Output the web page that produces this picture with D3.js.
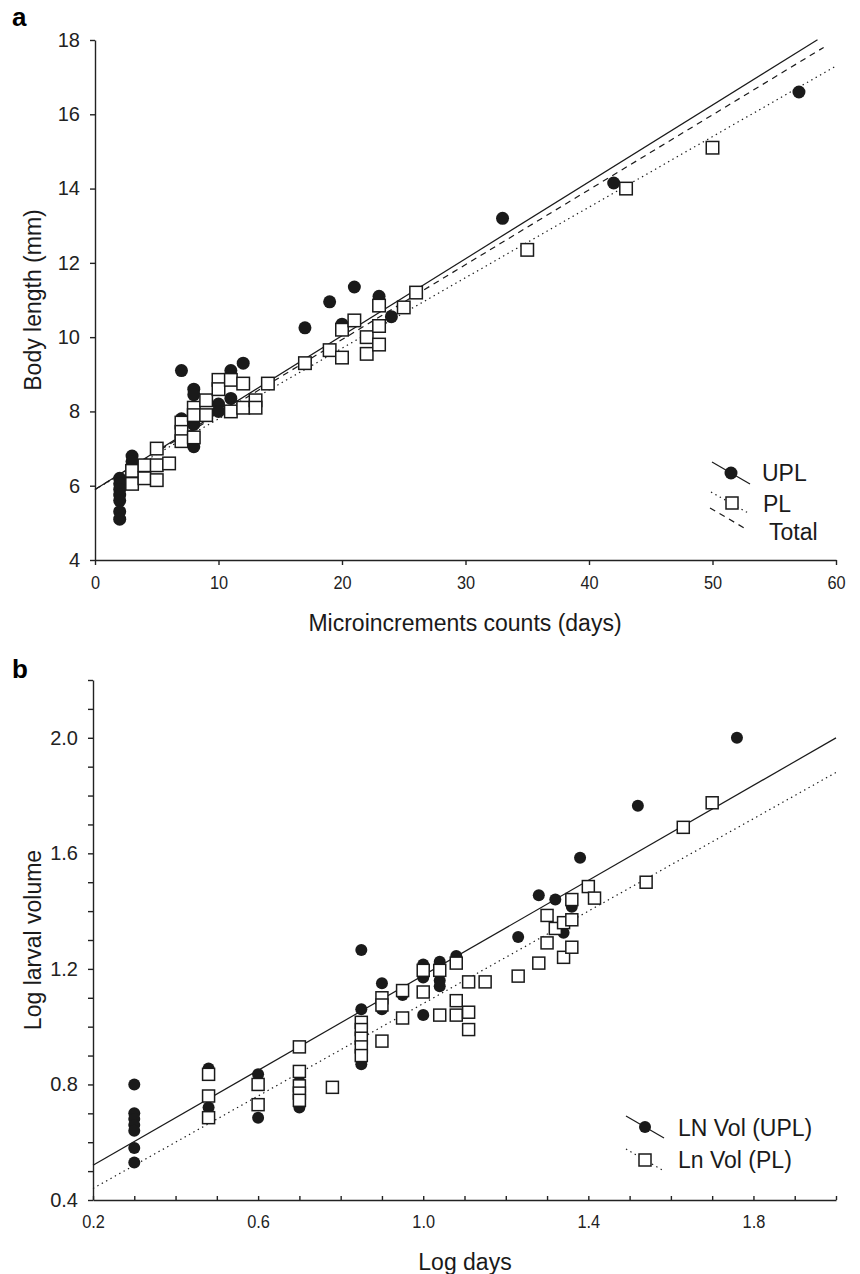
<!DOCTYPE html>
<html>
<head>
<meta charset="UTF-8">
<title>Body length and larval volume</title>
<script src="https://d3js.org/d3.v7.min.js"></script>
<style>
  body { margin: 0; background: #fff; }
  svg { display: block; font-family: "Liberation Sans", Arial, sans-serif; }
  .axis path, .axis line { stroke: #222; stroke-width: 1.4; }
  .axis text { fill: #222; }
</style>
</head>
<body>
<svg id="chart" width="860" height="1274"></svg>
<script>
// panel a: microincrement counts (days) vs body length (mm)
const uplA = [
  [2, 6.2], [2, 6.05], [2, 5.9], [2, 5.75], [2, 5.6], [2, 5.3], [2, 5.1],
  [3, 6.8], [3, 6.65],
  [7, 9.1], [7, 7.8],
  [8, 8.6], [8, 8.45], [8, 7.65], [8, 7.05],
  [10, 8.2], [10, 8.0],
  [11, 9.1], [11, 8.35],
  [12, 9.3],
  [17, 10.25], [19, 10.95], [20, 10.35], [21, 11.35], [23, 11.1], [24, 10.55],
  [33, 13.2], [42, 14.15], [57, 16.6]
];
const plA = [
  [3, 6.4], [3, 6.05],
  [4, 6.55], [4, 6.2],
  [5, 7.0], [5, 6.55], [5, 6.15],
  [6, 6.6],
  [7, 7.7], [7, 7.45], [7, 7.2],
  [8, 8.1], [8, 7.9], [8, 7.3],
  [9, 8.3], [9, 7.9],
  [10, 8.85], [10, 8.6],
  [11, 8.85], [11, 8.0],
  [12, 8.75], [12, 8.1],
  [13, 8.3], [13, 8.1],
  [14, 8.75],
  [17, 9.3], [19, 9.65], [20, 10.2], [20, 9.45], [21, 10.45], [22, 10.0], [22, 9.55],
  [23, 10.85], [23, 10.3], [23, 9.8], [25, 10.8], [26, 11.2],
  [35, 12.35], [43, 14.0], [50, 15.1]
];
// fitted lines: [intercept, slope, last x]
const fitUplA = [5.9, 0.207, 58.5];
const fitPlA = [5.9, 0.19, 60];
const fitTotalA = [5.9, 0.2017, 59];
const xTicksA = [0, 10, 20, 30, 40, 50, 60];
const yTicksA = [4, 6, 8, 10, 12, 14, 16, 18];

// panel b: log days vs log larval volume
const uplB = [
  [0.30, 0.80], [0.30, 0.70], [0.30, 0.68], [0.30, 0.66], [0.30, 0.64], [0.30, 0.58], [0.30, 0.53],
  [0.48, 0.855], [0.48, 0.72],
  [0.60, 0.835], [0.60, 0.685],
  [0.70, 0.81], [0.70, 0.72],
  [0.85, 1.265], [0.85, 1.06], [0.85, 0.87],
  [0.90, 1.15], [0.90, 1.06],
  [0.95, 1.11],
  [1.00, 1.215], [1.00, 1.17], [1.00, 1.04],
  [1.04, 1.225], [1.04, 1.16], [1.04, 1.14],
  [1.08, 1.245],
  [1.23, 1.31], [1.28, 1.455], [1.32, 1.44], [1.34, 1.325], [1.36, 1.415], [1.38, 1.585],
  [1.52, 1.765], [1.76, 2.0]
];
const plB = [
  [0.48, 0.835], [0.48, 0.76], [0.48, 0.685],
  [0.60, 0.80], [0.60, 0.73],
  [0.70, 0.93], [0.70, 0.845], [0.70, 0.795], [0.70, 0.77], [0.70, 0.745],
  [0.78, 0.79],
  [0.85, 1.015], [0.85, 0.99], [0.85, 0.96], [0.85, 0.93], [0.85, 0.90],
  [0.90, 1.10], [0.90, 1.075], [0.90, 0.95],
  [0.95, 1.125], [0.95, 1.03],
  [1.00, 1.195], [1.00, 1.12],
  [1.04, 1.195], [1.04, 1.04],
  [1.08, 1.22], [1.08, 1.09], [1.08, 1.04],
  [1.11, 1.155], [1.11, 1.05], [1.11, 0.99],
  [1.15, 1.155],
  [1.23, 1.175], [1.28, 1.22], [1.30, 1.385], [1.30, 1.29], [1.32, 1.34], [1.34, 1.36], [1.34, 1.24],
  [1.36, 1.44], [1.36, 1.37], [1.36, 1.275], [1.40, 1.485], [1.415, 1.445],
  [1.54, 1.50], [1.63, 1.69], [1.70, 1.775]
];
// fitted lines: [value at x0, slope, x0, x1]
const fitUplB = [0.52, 0.822, 0.2, 2.0];
const fitPlB = [0.44, 0.8, 0.2, 2.0];
const xTicksB = d3.range(2, 21).map(d => d / 10);
const xLabelsB = [0.2, 0.6, 1.0, 1.4, 1.8];
const yTicksB = d3.range(4, 23).map(d => d / 10);
const yLabelsB = [0.4, 0.8, 1.2, 1.6, 2.0];

const svg = d3.select("#chart");
const ink = "#1a1a1a";

function circles(g, data, x, y, r) {
  g.append("g").selectAll("circle").data(data).join("circle")
    .attr("cx", d => x(d[0])).attr("cy", d => y(d[1])).attr("r", r)
    .attr("fill", ink);
}
function squares(g, data, x, y, s) {
  g.append("g").selectAll("rect").data(data).join("rect")
    .attr("x", d => x(d[0]) - s / 2).attr("y", d => y(d[1]) - s / 2)
    .attr("width", s).attr("height", s)
    .attr("fill", "#fff").attr("stroke", ink).attr("stroke-width", 1.5);
}
function fitLine(g, x, y, x0, x1, a, b, dash) {
  const pts = [x0, x1].map(t => [t, a + b * (t - x0)]);
  g.append("path")
    .attr("d", d3.line().x(d => x(d[0])).y(d => y(d[1]))(pts))
    .attr("fill", "none").attr("stroke", ink).attr("stroke-width", 1.2)
    .attr("stroke-dasharray", dash);
}

// ---------- panel a ----------
const xa = d3.scaleLinear().domain([0, 60]).range([95, 836]);
const ya = d3.scaleLinear().domain([4, 18]).range([560, 40]);
const ga = svg.append("g");

ga.append("g").attr("class", "axis").attr("transform", "translate(0,560)")
  .call(d3.axisBottom(xa).tickValues(xTicksA).tickSize(5).tickPadding(11).tickSizeOuter(0))
  .selectAll("text").attr("font-size", 19).attr("transform", "scale(0.86,1)");
ga.append("g").attr("class", "axis").attr("transform", "translate(95,0)")
  .call(d3.axisLeft(ya).tickValues(yTicksA).tickSize(5).tickPadding(10).tickSizeOuter(0))
  .selectAll("text").attr("font-size", 20);

fitLine(ga, xa, ya, 0, fitUplA[2], fitUplA[0], fitUplA[1], null);
fitLine(ga, xa, ya, 0, fitTotalA[2], fitTotalA[0], fitTotalA[1], "6,5");
fitLine(ga, xa, ya, 0, fitPlA[2], fitPlA[0], fitPlA[1], "1.4,3.6");
circles(ga, uplA, xa, ya, 6.5);
squares(ga, plA, xa, ya, 12.5);

ga.append("text").attr("x", 12).attr("y", 26).attr("font-size", 26).attr("font-weight", "bold").text("a");
ga.append("text").attr("transform", "translate(41,300) rotate(-90)").attr("text-anchor", "middle")
  .attr("font-size", 23).attr("fill", ink).text("Body length (mm)");
ga.append("text").attr("x", 465).attr("y", 631).attr("text-anchor", "middle")
  .attr("font-size", 23).attr("fill", ink).text("Microincrements counts (days)");

// legend a
const la = ga.append("g");
la.append("line").attr("x1", 712).attr("y1", 462).attr("x2", 750).attr("y2", 484).attr("stroke", ink).attr("stroke-width", 1.2);
la.append("circle").attr("cx", 731).attr("cy", 473).attr("r", 6.5).attr("fill", ink);
la.append("line").attr("x1", 711).attr("y1", 492).attr("x2", 750).attr("y2", 514).attr("stroke", ink).attr("stroke-width", 1.2).attr("stroke-dasharray", "1.4,3.6");
la.append("rect").attr("x", 726).attr("y", 497).attr("width", 12).attr("height", 12).attr("fill", "#fff").attr("stroke", ink).attr("stroke-width", 1.5);
la.append("line").attr("x1", 710).attr("y1", 508).attr("x2", 746).attr("y2", 529).attr("stroke", ink).attr("stroke-width", 1.2).attr("stroke-dasharray", "6,5");
la.append("text").attr("x", 762).attr("y", 481).attr("font-size", 23).attr("fill", ink).text("UPL");
la.append("text").attr("x", 763).attr("y", 512).attr("font-size", 23).attr("fill", ink).text("PL");
la.append("text").attr("x", 769).attr("y", 540).attr("font-size", 23).attr("fill", ink).text("Total");

// ---------- panel b ----------
const xb = d3.scaleLinear().domain([0.2, 2.0]).range([93, 836]);
const yb = d3.scaleLinear().domain([0.4, 2.2]).range([1200, 680]);
const gb = svg.append("g");

gb.append("g").attr("class", "axis").attr("transform", "translate(0,1200)")
  .call(d3.axisBottom(xb).tickValues(xTicksB).tickSize(-4).tickPadding(15).tickSizeOuter(0)
    .tickFormat(d => xLabelsB.some(v => Math.abs(v - d) < 1e-9) ? d3.format(".1f")(d) : ""))
  .selectAll("text").attr("font-size", 19).attr("transform", "scale(0.86,1)");
gb.append("g").attr("class", "axis").attr("transform", "translate(93,0)")
  .call(d3.axisLeft(yb).tickValues(yTicksB).tickSize(5).tickPadding(10).tickSizeOuter(0)
    .tickFormat(d => yLabelsB.some(v => Math.abs(v - d) < 1e-9) ? d3.format(".1f")(d) : ""))
  .selectAll("text").attr("font-size", 20);

fitLine(gb, xb, yb, fitUplB[2], fitUplB[3], fitUplB[0], fitUplB[1], null);
fitLine(gb, xb, yb, fitPlB[2], fitPlB[3], fitPlB[0], fitPlB[1], "1.4,3.6");
circles(gb, uplB, xb, yb, 6);
squares(gb, plB, xb, yb, 12);

gb.append("text").attr("x", 12).attr("y", 678).attr("font-size", 26).attr("font-weight", "bold").text("b");
gb.append("text").attr("transform", "translate(41,940) rotate(-90)").attr("text-anchor", "middle")
  .attr("font-size", 23).attr("fill", ink).text("Log larval volume");
gb.append("text").attr("x", 465).attr("y", 1270).attr("text-anchor", "middle")
  .attr("font-size", 23).attr("fill", ink).text("Log days");

// legend b
const lb = gb.append("g");
lb.append("line").attr("x1", 626).attr("y1", 1116).attr("x2", 664).attr("y2", 1138).attr("stroke", ink).attr("stroke-width", 1.2);
lb.append("circle").attr("cx", 645).attr("cy", 1127).attr("r", 6).attr("fill", ink);
lb.append("line").attr("x1", 626).attr("y1", 1149).attr("x2", 664).attr("y2", 1171).attr("stroke", ink).attr("stroke-width", 1.2).attr("stroke-dasharray", "1.4,3.6");
lb.append("rect").attr("x", 639).attr("y", 1154).attr("width", 12).attr("height", 12).attr("fill", "#fff").attr("stroke", ink).attr("stroke-width", 1.5);
lb.append("text").attr("x", 678).attr("y", 1136).attr("font-size", 23).attr("fill", ink).text("LN Vol (UPL)");
lb.append("text").attr("x", 678).attr("y", 1168).attr("font-size", 23).attr("fill", ink).text("Ln Vol (PL)");
</script>
</body>
</html>
